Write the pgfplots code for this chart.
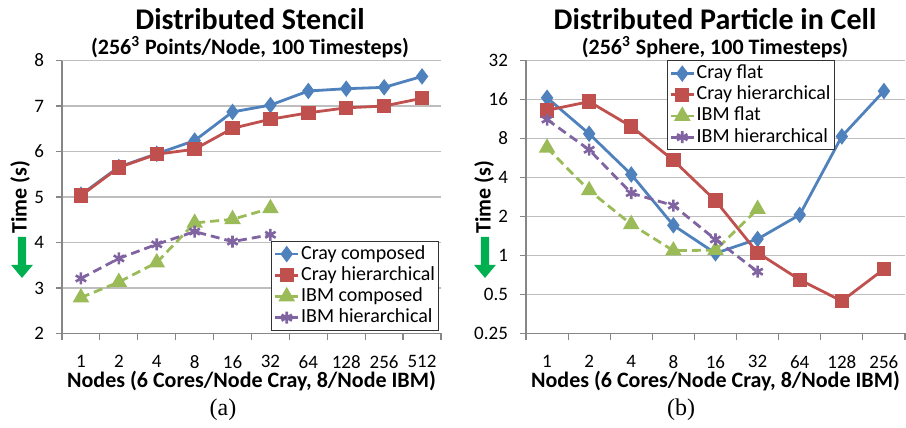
\documentclass[border=0pt]{standalone}
\usepackage{pgfplots}
\pgfplotsset{compat=1.18}
\usepackage{fontspec}
\setmainfont{Carlito}
\newfontfamily\capfont{Liberation Serif}

\definecolor{crayblue}{HTML}{4F81BD}
\definecolor{crayred}{HTML}{C0504D}
\definecolor{ibmgreen}{HTML}{9BBB59}
\definecolor{ibmpurple}{HTML}{8064A2}
\definecolor{axisgray}{HTML}{868686}
\definecolor{gridgray}{HTML}{BEBEBE}
\definecolor{arrowgreen}{HTML}{00B050}

\pgfplotsset{
  excel/.style={
    scale only axis,
    width=189.5pt, height=136.5pt,
    axis x line*=bottom, axis y line*=left,
    axis line style={draw=axisgray, line width=0.6pt},
    ymajorgrids,
    grid style={draw=gridgray, line width=0.6pt},
    tick align=outside,
    major tick length=3pt,
    minor tick length=3.5pt,
    every major x tick/.append style={draw=none},
    every minor x tick/.append style={draw=axisgray, line width=0.6pt},
    every y tick/.append style={draw=axisgray, line width=0.6pt},
    /pgf/number format/assume math mode=true,
    tick label style={font=\fontsize{9.5}{11}\selectfont},
    xticklabel style={yshift=-4.5pt},
    yticklabel style={xshift=-2.5pt},
    xlabel style={at={(axis description cs:0.5,-0.174)}, anchor=center,
      font=\fontsize{11}{13}\selectfont\bfseries},
    ylabel style={at={(axis description cs:-0.1108,0.5)}, anchor=center,
      font=\fontsize{11}{13}\selectfont\bfseries},
    xlabel={Nodes (6 Cores/Node Cray, 8/Node IBM)},
    ylabel={Time (s)},
    clip=false,
    legend cell align=left,
    legend style={draw=black!80, line width=0.5pt, fill=white,
      font=\fontsize{10}{12}\selectfont,
      inner sep=1pt,
      nodes={inner sep=0.8pt, text height=7pt, text depth=2pt}},
    legend image code/.code={
      \draw[mark repeat=2, mark phase=2]
        plot coordinates {(0cm,0cm) (0.2cm,0cm) (0.4cm,0cm)};},
  },
  cray/.style={line width=1.4pt, mark options={solid}},
  ibm/.style={line width=1.4pt, dash pattern=on 4.5pt off 2.5pt,
    mark options={solid}},
}

\begin{document}
\begin{tikzpicture}

% (a) stencil
\begin{axis}[
  excel,
  at={(0pt,0pt)}, anchor=south west,
  xmin=-0.5, xmax=9.5,
  ymin=2, ymax=8,
  ytick={2,3,4,5,6,7,8},
  xtick={0,...,9},
  xticklabels={1,2,4,8,16,32,64,128,256,512},
  minor xtick={-0.5,0.5,...,9.5},
  legend style={at={(0.995,0.01)}, anchor=south east},
]
\addplot[cray, color=crayblue, mark=diamond*, mark size=3pt] coordinates {
(0,5.05) (1,5.66) (2,5.95) (3,6.24) (4,6.87)
(5,7.02) (6,7.33) (7,7.38) (8,7.41) (9,7.65)
};
\addlegendentry{Cray composed}
\addplot[cray, color=crayred, mark=square*, mark size=2.9pt] coordinates {
(0,5.03) (1,5.65) (2,5.94) (3,6.05) (4,6.51)
(5,6.71) (6,6.85) (7,6.96) (8,7.00) (9,7.17)
};
\addlegendentry{Cray hierarchical}
\addplot[ibm, color=ibmgreen, mark=triangle*, mark size=3.4pt] coordinates {
(0,2.79) (1,3.13) (2,3.56) (3,4.43) (4,4.51) (5,4.75)
};
\addlegendentry{IBM composed}
\addplot[ibm, color=ibmpurple, mark=asterisk, mark size=3pt,
  mark options={solid, line width=1.3pt}] coordinates {
(0,3.21) (1,3.65) (2,3.96) (3,4.24) (4,4.02) (5,4.17)
};
\addlegendentry{IBM hierarchical}
\end{axis}

% (b) particle in cell
\begin{axis}[
  excel,
  at={(232pt,0pt)}, anchor=south west,
  xmin=-0.5, xmax=8.5,
  ymode=log, log basis y=2,
  ymin=0.25, ymax=32,
  ytick={0.25,0.5,1,2,4,8,16,32},
  yticklabels={0.25,0.5,1,2,4,8,16,32},
  xtick={0,...,8},
  xticklabels={1,2,4,8,16,32,64,128,256},
  minor xtick={-0.5,0.5,...,8.5},
  legend style={at={(0.372,1)}, anchor=north west},
]
\addplot[cray, color=crayblue, mark=diamond*, mark size=3pt] coordinates {
(0,16.5) (1,8.7) (2,4.22) (3,1.71) (4,1.04)
(5,1.34) (6,2.06) (7,8.3) (8,18.6)
};
\addlegendentry{Cray flat}
\addplot[cray, color=crayred, mark=square*, mark size=2.9pt] coordinates {
(0,13.2) (1,15.4) (2,9.9) (3,5.43) (4,2.65)
(5,1.05) (6,0.65) (7,0.445) (8,0.785)
};
\addlegendentry{Cray hierarchical}
\addplot[ibm, color=ibmgreen, mark=triangle*, mark size=3.4pt] coordinates {
(0,6.77) (1,3.18) (2,1.74) (3,1.09) (4,1.10) (5,2.28)
};
\addlegendentry{IBM flat}
\addplot[ibm, color=ibmpurple, mark=asterisk, mark size=3pt,
  mark options={solid, line width=1.3pt}] coordinates {
(0,11.2) (1,6.55) (2,3.03) (3,2.43) (4,1.33) (5,0.75)
};
\addlegendentry{IBM hierarchical}
\end{axis}

% titles
\node[font=\fontsize{15}{17}\selectfont\bfseries] at (94pt,157pt) {Distributed Stencil};
\node[font=\fontsize{11}{13}\selectfont\bfseries] at (94pt,143pt)
  {(256\textsuperscript{3} Points/Node, 100 Timesteps)};
\node[font=\fontsize{15}{17}\selectfont\bfseries] at (326.5pt,157pt) {Distributed Particle in Cell};
\node[font=\fontsize{11}{13}\selectfont\bfseries] at (326.5pt,143pt)
  {(256\textsuperscript{3} Sphere, 100 Timesteps)};

% "lower is better" arrows
\foreach \cx in {-20,211.5} {
  \fill[arrowgreen] (\cx pt-2.1pt,48.25pt) -- (\cx pt+2.1pt,48.25pt)
    -- (\cx pt+2.1pt,34.25pt) -- (\cx pt+5.4pt,34.25pt) -- (\cx pt,27.75pt)
    -- (\cx pt-5.4pt,34.25pt) -- (\cx pt-2.1pt,34.25pt) -- cycle;
}

% captions
\node[font=\capfont\fontsize{12}{14}\selectfont] at (80.5pt,-38.25pt) {(a)};
\node[font=\capfont\fontsize{12}{14}\selectfont] at (309.5pt,-38.25pt) {(b)};

\pgfresetboundingbox
\path (-31pt,-47.25pt) rectangle (422pt,166.75pt);
\end{tikzpicture}
\end{document}
